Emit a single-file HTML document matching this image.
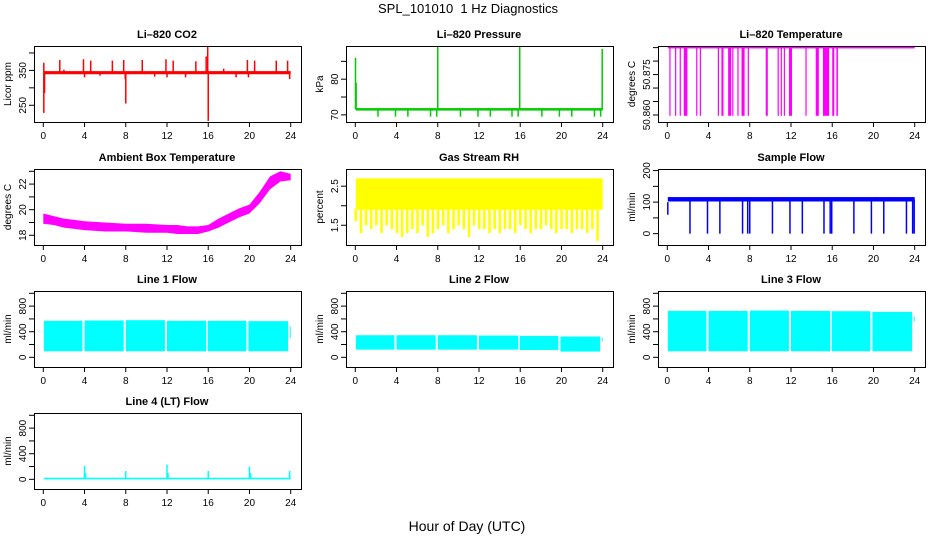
<!DOCTYPE html>
<html><head><meta charset="utf-8"><title>SPL_101010 1 Hz Diagnostics</title>
<style>
html,body{margin:0;padding:0;background:#fff;}
svg{display:block;font-family:"Liberation Sans",Arial,sans-serif;}
</style></head>
<body>
<svg id="chart" width="936" height="540" viewBox="0 0 936 540" xmlns="http://www.w3.org/2000/svg">
<rect x="0" y="0" width="936" height="540" fill="#fff"/>
<text x="468" y="13" text-anchor="middle" font-size="13">SPL_101010&#160; 1 Hz Diagnostics</text>
<text x="467" y="531" text-anchor="middle" font-size="14">Hour of Day (UTC)</text>
<g id="panels"></g>
</svg>
<script>
// ---- shared x ticks ----
const xTicks = [0, 4, 8, 12, 16, 20, 24];

// ---- CO2 ----
const co2Band = [[0.05, 24.0, 339, 348]];
const co2Spikes = [[0.05,343,372],[0.05,343,228],[0.12,343,285],[1.6,343,380],[2.0,343,352],[3.9,343,382],[4.0,343,330],[4.6,343,378],[5.5,343,335],[6.7,343,378],[7.8,343,380],[7.95,343,325],[8.0,343,255],[9.6,343,380],[10.8,343,332],[11.9,343,382],[12.0,343,330],[12.6,343,378],[13.8,343,330],[14.8,343,376],[15.8,343,390],[15.95,343,420],[16.0,343,205],[17.5,343,355],[18.7,343,330],[19.8,343,380],[19.9,343,330],[20.5,343,378],[22.6,343,378],[23.7,343,378],[23.9,343,325]];

// ---- Pressure ----
const presBand = [[0.05, 24.0, 71.2, 71.9]];
const presSpikes = [[0.02,71.5,86],[0.08,71.5,79],[2.2,71.5,69.5],[3.9,71.5,69.5],[5.1,71.5,69.5],[7.3,71.5,69.5],[7.9,71.5,69.5],[8.0,71.5,89],[10.2,71.5,69.5],[11.9,71.5,69.5],[13.1,71.5,69.5],[15.2,71.5,69.5],[15.8,71.5,69.5],[15.95,71.5,89],[18.1,71.5,69.5],[19.8,71.5,69.5],[21.0,71.5,69.5],[23.2,71.5,69.5],[23.8,71.5,69.5],[23.95,71.5,88.5]];

// ---- Li-820 Temperature ----
const tempBand = [[0.05, 24.0, 50.8847, 50.8853]];
const tempDips = [[0.2,0.25],[0.75,0.8],[1.2,1.25],[1.6,1.65],[1.7,1.95],[2.8,2.85],[3.15,3.2],[4.9,4.95],[5.25,5.45],[5.9,6.2],[6.3,6.35],[6.8,6.85],[7.2,7.5],[7.8,7.85],[9.55,9.75],[10.7,10.75],[11.0,11.05],[11.3,11.35],[11.8,12.1],[13.4,13.45],[14.4,14.7],[15.1,15.7],[16.0,16.2],[16.4,16.55]];
const tempDipLow = [50.8597];

// ---- Ambient Box Temperature ----
const ambHours = [0, 1, 2, 3, 4, 6, 8, 10, 12, 13, 14, 15, 16, 17, 18, 19, 20, 21, 22, 23, 24];
const ambLow  = [18.9, 18.8, 18.6, 18.5, 18.4, 18.3, 18.3, 18.2, 18.2, 18.1, 18.1, 18.1, 18.3, 18.6, 19.0, 19.4, 19.7, 20.5, 21.6, 22.2, 22.3];
const ambHigh = [19.7, 19.5, 19.3, 19.2, 19.1, 19.0, 18.9, 18.9, 18.8, 18.8, 18.7, 18.7, 18.8, 19.3, 19.7, 20.1, 20.4, 21.4, 22.6, 23.0, 22.8];

// ---- Gas Stream RH ----
const rhTop = [2.7];
const rhLows = [1.6,1.3,1.5,1.4,1.5,1.3,1.5,1.4,1.3,1.2,1.3,1.4,1.3,1.5,1.2,1.3,1.4,1.5,1.3,1.4,1.5,1.4,1.2,1.5,1.4,1.4,1.3,1.4,1.3,1.4,1.4,1.3,1.5,1.4,1.3,1.4,1.4,1.5,1.4,1.3,1.4,1.4,1.3,1.4,1.4,1.3,1.4,1.1,2.0];
const rhMid = [1.9];

// ---- Sample Flow ----
const sfBand = [[0.05, 24.0, 102, 116]];
const sfSpikes = [[0.05,100,60],[2.2,108,0],[3.9,108,0],[5.1,108,0],[7.3,108,0],[7.8,108,0],[8.0,108,0],[10.2,108,0],[11.9,108,0],[13.1,108,0],[15.2,108,0],[15.8,108,0],[15.95,108,0],[18.1,108,0],[19.8,108,0],[21.0,108,0],[23.2,108,0],[23.8,108,0],[23.95,108,0]];

// ---- Line flows ----
const l1Segs = [[0.05,3.8,95,570],[4.0,7.8,95,575],[8.0,11.8,95,580],[12.0,15.8,95,570],[15.95,19.7,95,570],[19.9,23.75,95,565],[23.9,24.0,300,480]];
const l2Segs = [[0.05,3.8,120,345],[4.0,7.8,120,345],[8.0,11.8,120,345],[12.0,15.8,120,340],[15.95,19.7,115,335],[19.9,23.75,90,325],[23.9,24.0,250,310]];
const l3Segs = [[0.05,3.8,95,725],[4.0,7.8,95,725],[8.0,11.8,95,730],[12.0,15.8,95,725],[15.95,19.7,95,720],[19.9,23.75,95,710],[23.9,24.0,560,640]];
const l4Base = [[0.05,24.0,0,25]];
const l4Spikes = [[4.0,10,210],[4.1,10,100],[8.0,10,130],[12.0,10,230],[12.1,10,100],[16.0,10,130],[20.0,10,200],[20.1,10,100],[23.9,10,130]];

const panels = [
 {name:'co2', title:'Li\u2013820 CO2', ylab:'Licor ppm', col:0,row:0, color:'#ff0000', dom:[202,420], ticks:[250,300,350,400], labels:['250','','350','']},
 {name:'pressure', title:'Li\u2013820 Pressure', ylab:'kPa', col:1,row:0, color:'#00cc00', dom:[68,89.3], ticks:[70,75,80,85], labels:['70','','80','']},
 {name:'li820-temperature', title:'Li\u2013820 Temperature', ylab:'degrees C', col:2,row:0, color:'#ff00ff', dom:[50.8574,50.8856], ticks:[50.860,50.865,50.870,50.875,50.880,50.885], labels:['50.860','','','50.875','','']},
 {name:'ambient-temperature', title:'Ambient Box Temperature', ylab:'degrees C', col:0,row:1, color:'#ff00ff', dom:[17.24,23.18], ticks:[18,19,20,21,22,23], labels:['18','','20','','22','']},
 {name:'gas-rh', title:'Gas Stream RH', ylab:'percent', col:1,row:1, color:'#ffff00', dom:[0.995,2.94], ticks:[1.5,2.0,2.5], labels:['1.5','','2.5']},
 {name:'sample-flow', title:'Sample Flow', ylab:'ml/min', col:2,row:1, color:'#0000ff', dom:[-36,205], ticks:[0,50,100,150,200], labels:['0','','100','','200']},
 {name:'line1-flow', title:'Line 1 Flow', ylab:'ml/min', col:0,row:2, color:'#00ffff', dom:[-151,1036], ticks:[0,200,400,600,800,1000], labels:['0','','400','','800','']},
 {name:'line2-flow', title:'Line 2 Flow', ylab:'ml/min', col:1,row:2, color:'#00ffff', dom:[-151,1036], ticks:[0,200,400,600,800,1000], labels:['0','','400','','800','']},
 {name:'line3-flow', title:'Line 3 Flow', ylab:'ml/min', col:2,row:2, color:'#00ffff', dom:[-151,1036], ticks:[0,200,400,600,800,1000], labels:['0','','400','','800','']},
 {name:'line4-flow', title:'Line 4 (LT) Flow', ylab:'ml/min', col:0,row:3, color:'#00ffff', dom:[-151,1036], ticks:[0,200,400,600,800,1000], labels:['0','','400','','800','']}
];

const NS='http://www.w3.org/2000/svg';
const root=document.getElementById('panels');
const colX=[34,346,658], rowY=[46,169,291,413], W=267, H=76;

function mk(tag, attrs, parent){
  const e=document.createElementNS(NS,tag);
  for(const k in attrs) e.setAttribute(k,attrs[k]);
  parent.appendChild(e); return e;
}

panels.forEach(p=>{
  const x0=colX[p.col], y0=rowY[p.row];
  const g=mk('g',{},root);
  
  
  const sx=h=>x0+9.3+h*(247.4/24);
  const sy=v=>y0+H-(v-p.dom[0])/(p.dom[1]-p.dom[0])*H;
  p.sx=sx; p.sy=sy; p.g=g;
  const t=mk('text',{x:x0+W/2-0.5,y:y0-8,'text-anchor':'middle','font-size':11,'font-weight':'bold'},g);
  t.textContent=p.title;
  
  
  const yl=mk('text',{x:0,y:0,'text-anchor':'middle','font-size':10,transform:`translate(${x0-23},${y0+H/2}) rotate(-90)`},g);
  yl.textContent=p.ylab;
  
  
  const dg=mk('g',{},g);
  
  
  p.dg=dg;
  const xa=mk('g',{},g);
  
  
  xTicks.forEach(h=>{
    mk('line',{x1:sx(h),x2:sx(h),y1:y0+H,y2:y0+H+5,stroke:'#000','stroke-width':1},xa);
    const tl=mk('text',{x:sx(h),y:y0+H+17,'text-anchor':'middle','font-size':10},xa);
    tl.textContent=String(h);
  });
  const ya=mk('g',{},g);
  
  
  p.ticks.forEach((v,i)=>{
    mk('line',{x1:x0-5,x2:x0,y1:sy(v),y2:sy(v),stroke:'#000','stroke-width':1},ya);
    if(p.labels[i]){
      const tl=mk('text',{x:0,y:0,'text-anchor':'middle','font-size':10,transform:`translate(${x0-8},${sy(v)}) rotate(-90)`},ya);
      tl.textContent=p.labels[i];
    }
  });
});

function band(p,segs){
  segs.forEach(s=>{
    const r=mk('rect',{x:p.sx(s[0]),y:p.sy(s[3]),width:Math.max(1,p.sx(s[1])-p.sx(s[0])),height:Math.max(1.5,p.sy(s[2])-p.sy(s[3])),fill:p.color},p.dg);
    
    
  });
}
function spikes(p,list){
  list.forEach(s=>{
    const l=mk('line',{x1:p.sx(s[0]),x2:p.sx(s[0]),y1:p.sy(s[1]),y2:p.sy(s[2]),stroke:p.color,'stroke-width':1.5},p.dg);
    
    
  });
}
const P={}; panels.forEach(p=>P[p.name]=p);

band(P['co2'],co2Band); spikes(P['co2'],co2Spikes);
band(P['pressure'],presBand); spikes(P['pressure'],presSpikes);
band(P['li820-temperature'],tempBand);
tempDips.forEach(d=>{
  const p=P['li820-temperature'];
  const r=mk('rect',{x:p.sx(d[0]),y:p.sy(50.885),width:Math.max(1.2,p.sx(d[1])-p.sx(d[0])),height:p.sy(tempDipLow[0])-p.sy(50.885),fill:p.color},p.dg);
  
  
});
(function(){
  const p=P['ambient-temperature'];
  let pts=ambHours.map((h,i)=>`${p.sx(h)},${p.sy(ambHigh[i])}`);
  for(let i=ambHours.length-1;i>=0;i--) pts.push(`${p.sx(ambHours[i])},${p.sy(ambLow[i])}`);
  const pg=mk('polygon',{points:pts.join(' '),fill:p.color},p.dg);
  
  
})();
(function(){
  const p=P['gas-rh'];
  const r=mk('rect',{x:p.sx(0.05),y:p.sy(rhTop[0]),width:p.sx(24)-p.sx(0.05),height:p.sy(rhMid[0])-p.sy(rhTop[0]),fill:p.color},p.dg);
  
  
  const n=rhLows.length;
  rhLows.forEach((v,i)=>{
    const h=0.05+i*(23.95/(n-1));
    const w=p.sx(23.95/(n-1))-p.sx(0);
    const rr=mk('rect',{x:p.sx(h)-w*0.25,y:p.sy(rhMid[0])-1,width:w*0.5,height:p.sy(v)-p.sy(rhMid[0])+1,fill:p.color},p.dg);
    
    
  });
})();
band(P['sample-flow'],sfBand); spikes(P['sample-flow'],sfSpikes);
band(P['line1-flow'],l1Segs);
band(P['line2-flow'],l2Segs);
band(P['line3-flow'],l3Segs);
band(P['line4-flow'],l4Base); spikes(P['line4-flow'],l4Spikes);

panels.forEach(p=>{
  const f=mk('rect',{x:colX[p.col]+0.5,y:rowY[p.row]+0.5,width:W,height:H,fill:'none',stroke:'#000','stroke-width':1},p.g);
  
  
});
</script>
</body></html>
